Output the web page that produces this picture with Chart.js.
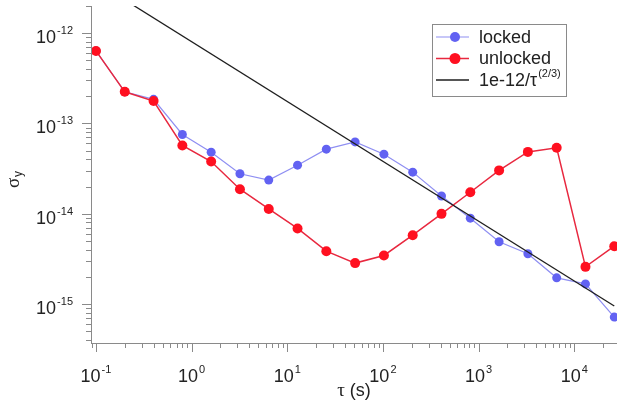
<!DOCTYPE html>
<html><head><meta charset="utf-8">
<script src="https://cdn.jsdelivr.net/npm/chart.js@4"></script>
<style>html,body{margin:0;padding:0;background:#fff;}#wrap{width:622px;height:402px;}</style>
</head><body><div id="wrap"><canvas id="c" width="622" height="402"></canvas></div>
<script>
// ---- data ----
const tau = [0.1,0.2,0.4,0.8,1.6,3.2,6.4,12.8,25.6,51.2,102.4,204.8,409.6,819.2,1638.4,3276.8,6553.6,13107.2,26214.4];
const locked = [6.36e-13,2.24e-13,1.85e-13,7.55e-14,4.81e-14,2.77e-14,2.36e-14,3.45e-14,5.19e-14,6.25e-14,4.57e-14,2.89e-14,1.57e-14,8.93e-15,4.89e-15,3.60e-15,1.95e-15,1.67e-15,7.16e-16];
const unlocked = [6.36e-13,2.24e-13,1.77e-13,5.70e-14,3.79e-14,1.87e-14,1.13e-14,6.87e-15,3.85e-15,2.84e-15,3.45e-15,5.79e-15,9.97e-15,1.73e-14,3.02e-14,4.84e-14,5.37e-14,2.58e-15,4.37e-15];
const fitTau = [0.1, 26214.4];
const fitVal = [3.7e-12, 9.5e-16];
const xTickValues = [0.1,1,10,100,1000,10000];
const xTickExponents = ['-1','0','1','2','3','4'];
const yTickValues = [1e-15,1e-14,1e-13,1e-12];
const yTickExponents = ['-15','-14','-13','-12'];
const seriesLabels = ['locked','unlocked','1e-12/τ^(2/3)'];

const SANS = '"Liberation Sans", Arial, sans-serif';
const SERIF = '"Liberation Serif", "DejaVu Serif", serif';

function drawPow(ctx, x, y, exp, align){
  ctx.font = '18px ' + SANS;
  const wb = ctx.measureText('10').width;
  ctx.font = '11px ' + SANS;
  const we = ctx.measureText(exp).width;
  const total = wb + we + 1;
  let sx = align === 'center' ? x - total/2 : x - total;
  ctx.textAlign = 'left'; ctx.textBaseline = 'alphabetic';
  ctx.font = '18px ' + SANS; ctx.fillText('10', sx, y);
  ctx.font = '11px ' + SANS; ctx.fillText(exp, sx + wb + 1, y - 9);
}

const decor = {
  id: 'decor',
  afterDraw(chart){
    const ctx = chart.ctx, xs = chart.scales.x, ys = chart.scales.y, a = chart.chartArea;
    ctx.save();
    ctx.strokeStyle = '#8a8a8a'; ctx.lineWidth = 1;
    ctx.beginPath();
    ctx.moveTo(a.left + 0.5, a.top); ctx.lineTo(a.left + 0.5, a.bottom + 0.5);
    ctx.moveTo(a.left, a.bottom + 0.5); ctx.lineTo(a.right, a.bottom + 0.5);
    // x ticks
    for (let e = -2; e <= 5; e++) for (let m = 1; m <= 9; m++) {
      const v = m * Math.pow(10, e);
      if (v < xs.min || v > xs.max) continue;
      const px = Math.round(xs.getPixelForValue(v)) + 0.5;
      const len = m === 1 ? 9 : 5;
      ctx.moveTo(px, a.bottom); ctx.lineTo(px, a.bottom + len);
    }
    // y ticks
    for (let e = -17; e <= -10; e++) for (let m = 1; m <= 9; m++) {
      const v = m * Math.pow(10, e);
      if (v < ys.min || v > ys.max) continue;
      const py = Math.round(ys.getPixelForValue(v)) + 0.5;
      const len = m === 1 ? 9 : 5;
      ctx.moveTo(a.left, py); ctx.lineTo(a.left - len, py);
    }
    ctx.stroke();
    ctx.fillStyle = '#222';
    xTickValues.forEach((v, i) => drawPow(ctx, xs.getPixelForValue(v), 382, xTickExponents[i], 'center'));
    yTickValues.forEach((v, i) => drawPow(ctx, a.left - 18, ys.getPixelForValue(v) + 10, yTickExponents[i], 'right'));
    // x title
    ctx.font = '19px ' + SERIF; const wt = ctx.measureText('τ ').width;
    ctx.font = '18px ' + SANS; const ws = ctx.measureText('(s)').width;
    let sx = (a.left + a.right)/2 - (wt + ws)/2;
    ctx.textAlign = 'left';
    ctx.font = '19px ' + SERIF; ctx.fillText('τ ', sx, 396);
    ctx.font = '18px ' + SANS; ctx.fillText('(s)', sx + wt, 396);
    // y title
    ctx.save();
    ctx.translate(19, 180); ctx.rotate(-Math.PI/2);
    ctx.font = '19px ' + SERIF; const wsig = ctx.measureText('σ').width;
    ctx.font = '12px ' + SANS; const wy = ctx.measureText('y').width;
    const st = -(wsig + wy)/2;
    ctx.font = '19px ' + SERIF; ctx.fillText('σ', st, 0);
    ctx.font = '12px ' + SANS; ctx.fillText('y', st + wsig + 1, 3);
    ctx.restore();
    // legend
    const lx = 432, ly = 24, lw = 134, lh = 72;
    ctx.fillStyle = '#fff'; ctx.fillRect(lx, ly, lw, lh);
    ctx.strokeStyle = '#8a8a8a'; ctx.strokeRect(lx + 0.5, ly + 0.5, lw, lh);
    const rows = [37, 58.5, 80];
    chart.data.datasets.forEach((ds, i) => {
      const y = rows[i];
      ctx.strokeStyle = ds.borderColor; ctx.lineWidth = ds.borderWidth;
      ctx.beginPath(); ctx.moveTo(436, y); ctx.lineTo(469, y); ctx.stroke();
      if (ds.pointRadius > 0) {
        ctx.fillStyle = ds.pointBackgroundColor;
        ctx.beginPath(); ctx.arc(455, y, ds.pointRadius + 0.5, 0, Math.PI*2); ctx.fill();
      }
      ctx.fillStyle = '#222'; ctx.textBaseline = 'middle';
      const parts = ds.label.split('^');
      ctx.font = '18px ' + SANS; ctx.fillText(parts[0], 479, y + 1);
      if (parts[1]) {
        const w0 = ctx.measureText(parts[0]).width;
        ctx.font = '11px ' + SANS; ctx.fillText(parts[1], 479 + w0 + 1, y - 6);
      }
    });
    ctx.restore();
  }
};

new Chart(document.getElementById('c'), {
  type: 'line',
  data: {
    datasets: [
      { label: seriesLabels[0], data: tau.map((t, i) => ({x: t, y: locked[i]})),
        borderColor: '#8f8ff2', borderWidth: 1.2, pointBackgroundColor: '#6262f2', pointBorderWidth: 0,
        pointRadius: 4.5, order: 3 },
      { label: seriesLabels[1], data: tau.map((t, i) => ({x: t, y: unlocked[i]})),
        borderColor: '#e8283f', borderWidth: 1.5, pointBackgroundColor: '#ff1020', pointBorderWidth: 0,
        pointRadius: 5, order: 2 },
      { label: seriesLabels[2], data: fitTau.map((t, i) => ({x: t, y: fitVal[i]})),
        borderColor: '#1e1e1e', borderWidth: 1.3, pointRadius: 0, order: 1 }
    ]
  },
  options: {
    responsive: false, animation: false, devicePixelRatio: 1,
    layout: { padding: { top: 6, right: 1, left: 0, bottom: 0 } },
    plugins: { legend: { display: false }, tooltip: { enabled: false } },
    scales: {
      x: { type: 'logarithmic', min: 0.0887, max: 28000, bounds: 'data',
           grid: { display: false, drawTicks: false }, border: { display: false },
           ticks: { display: false }, afterFit(s){ s.height = 59; } },
      y: { type: 'logarithmic', min: 3.7e-16, max: 2.0e-12, bounds: 'data',
           grid: { display: false, drawTicks: false }, border: { display: false },
           ticks: { display: false }, afterFit(s){ s.width = 91; } }
    }
  },
  plugins: [decor]
});
</script></body></html>
